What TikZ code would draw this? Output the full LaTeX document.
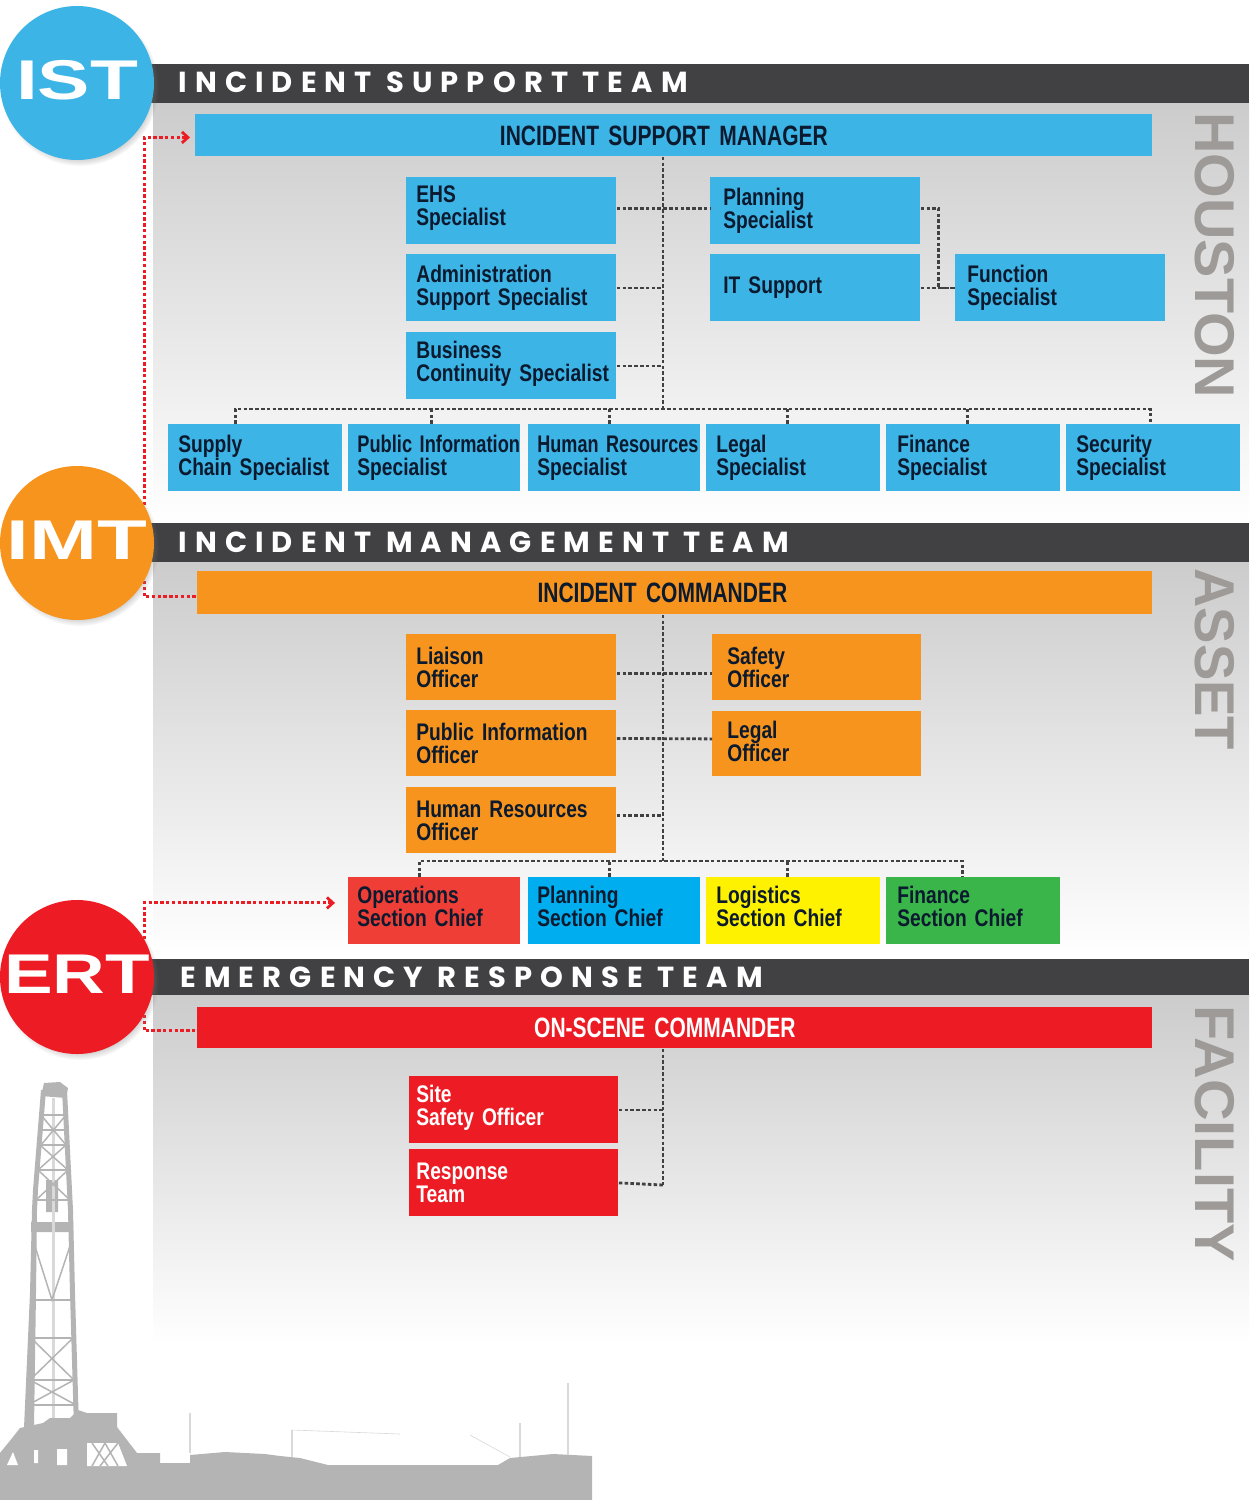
\documentclass[tikz,border=0pt]{standalone}
\usepackage{fontspec}
\usetikzlibrary{shadows,arrows.meta}
\setmainfont{Liberation Sans}
\newfontfamily\boxfont[FakeStretch=.8,WordSpace=.6]{Liberation Sans}
\newfontfamily\titlefont[FakeStretch=.75,WordSpace=.7]{Liberation Sans}
\newfontfamily\headfont[LetterSpace=28]{Poppins}
\newfontfamily\circfont[FakeStretch=1.4]{Liberation Sans}
\newfontfamily\sidefont{Liberation Sans}
\definecolor{cblue}{HTML}{3DB4E6}
\definecolor{corange}{HTML}{F7941E}
\definecolor{cred}{HTML}{ED1C24}
\definecolor{copsred}{HTML}{EF3E36}
\definecolor{cplan}{HTML}{00AEEF}
\definecolor{cyel}{HTML}{FFF200}
\definecolor{cgreen}{HTML}{39B54A}
\definecolor{cbar}{HTML}{414042}
\definecolor{cside}{HTML}{9E9A98}
\definecolor{crig}{HTML}{B5B4B5}
\definecolor{ctxt}{HTML}{0B1A2E}
\tikzset{
 ebox/.style={draw=none,inner sep=0pt,anchor=north west,align=left,font=\boxfont\bfseries\fontsize{12}{11.5}\selectfont},
 title/.style={draw=none,inner sep=0pt,anchor=north west,align=center,font=\titlefont\bfseries\fontsize{14}{14}\selectfont},
 badge/.style={circle,minimum size=77pt,inner sep=0pt,text=white,text depth=3pt,font=\circfont\bfseries\fontsize{28}{28}\selectfont,
   circular drop shadow={shadow xshift=1.2pt,shadow yshift=-1.8pt,shadow scale=1.03,opacity=.55}},
 head/.style={anchor=west,inner sep=0pt,text=white,font=\headfont\bfseries\fontsize{14.5}{15}\selectfont},
 side/.style={rotate=-90,anchor=west,inner sep=0pt,text=cside,font=\sidefont\bfseries\fontsize{28}{28}\selectfont},
 conn/.style={draw=cbar,line width=1.4pt,dash pattern=on 1.8pt off 1.1pt},
 redconn/.style={draw=cred,line width=1.5pt,dash pattern=on 1.7pt off 1.2pt},
 redarrow/.style={redconn,-{Straight Barb[length=3pt,width=5.5pt,line width=1.4pt]}},
 rigl/.style={draw=crig,line width=.75pt},
 riglight/.style={draw=crig!50,line width=.7pt},
 upt/.style={text depth=16.5pt},
}
\newcommand\bx[9]{\node[ebox,fill=#6,text=#8,minimum width={(#4-#2)*0.5pt},minimum height={(#5-#3)*0.5pt},text width={(#4-#2-2*#7)*0.5pt}] (#1) at (#2,#3) {#9};}
\begin{document}
\begin{tikzpicture}[x=0.5pt,y=-0.5pt]
\useasboundingbox (0,0) rectangle (1249,1500);
\fill[white] (0,0) rectangle (1249,1500);
% backgrounds
\shade[top color=black!20,bottom color=white] (153,103) rectangle (1249,523);
\shade[top color=black!20,bottom color=white] (153,562) rectangle (1249,958);
\shade[top color=black!20,bottom color=white] (153,995) rectangle (1249,1345);
% rig: tower
\fill[crig] (24,1428)--(30,1293)--(32,1210)--(33,1190)--(41,1090)--(46,1090)--(38,1190)--(37,1210)--(36,1293)--(34,1428)--cycle;
\fill[crig] (79,1428)--(75,1293)--(73,1210)--(72,1190)--(67,1090)--(62,1090)--(67,1190)--(68,1210)--(70,1293)--(74,1428)--cycle;
\fill[crig] (41,1096)--(44,1083)--(60,1082)--(68,1088)--(66,1098)--cycle;
\fill[crig] (31,1222) rectangle (73,1232) (46,1180) rectangle (58,1212);
\draw[riglight,line width=1.5pt] (53,1098)--(53,1420);
\draw[rigl] (41,1115)--(66,1115) (41,1130)--(66,1130) (40,1145)--(66,1145) (38,1170)--(68,1170) (36,1200)--(70,1200) (31,1300)--(73,1300) (30,1338)--(74,1338) (28,1380)--(76,1380) (27,1405)--(78,1405);
\draw[rigl] (41,1115)--(66,1145) (66,1115)--(41,1145) (40,1145)--(68,1170) (66,1145)--(38,1170) (38,1170)--(70,1200) (68,1170)--(36,1200) (33,1240)--(52,1300)--(72,1240) (31,1338)--(74,1380) (73,1338)--(30,1380) (30,1380)--(76,1405) (74,1380)--(28,1405);
% rig: ground and deck
\fill[crig] (0,1500)--(0,1453)--(13,1437)--(20,1428)--(43,1423)--(50,1418)--(70,1418)--(78,1410)--(87,1413)--(117,1413)--(117,1427)--(137,1453)--(160,1453)--(160,1463)--(190,1463)--(190,1455)--(225,1452)--(265,1454)--(280,1456)--(300,1458)--(328,1465)--(498,1465)--(510,1458)--(553,1454)--(592,1456)--(592,1500)--cycle;
\fill[white] (7,1465)--(13,1452)--(18,1465)--cycle (57,1449) rectangle (67,1465) (34,1450) rectangle (38,1463) (87,1443)--(118,1443)--(127,1466)--(87,1466)--cycle;
\draw[rigl] (92,1466)--(105,1443) (100,1466)--(118,1443) (108,1466)--(92,1443) (118,1466)--(105,1443);
\draw[riglight] (190,1413)--(190,1453) (292,1430)--(292,1457) (520,1423)--(520,1457) (568,1383)--(568,1455);
\draw[riglight,line width=.3pt] (292,1430)--(400,1434) (470,1435)--(510,1457);
% header bars
\fill[cbar] (150,64) rectangle (1249,103);
\fill[cbar] (150,523) rectangle (1249,562);
\fill[cbar] (150,959) rectangle (1249,995);
\node[head] (h1) at (178,82) {INCIDENT SUPPORT TEAM};
\node[head] (h2) at (178,542) {INCIDENT MANAGEMENT TEAM};
\node[head] (h3) at (180,977) {EMERGENCY RESPONSE TEAM};
\node[side] (s1) at (1215,112) {\scalebox{1.025}[1]{HOUSTON}};
\node[side] (s2) at (1215,568) {\scalebox{.973}[1]{ASSET}};
\node[side] (s3) at (1215,1005) {\scalebox{1.03}[1]{FACILITY}};
% IST boxes
\node[title,fill=cblue,text=ctxt,minimum width=478.5pt,minimum height=21pt,text width=478.5pt] (ism) at (195,114) {\hspace*{-10pt}INCIDENT SUPPORT MANAGER};
\bx{ehs}{406}{177}{616}{244}{cblue,upt}{10}{ctxt}{EHS\\Specialist}
\bx{adm}{406}{254}{616}{321}{cblue}{10}{ctxt}{Administration\\Support Specialist}
\bx{bus}{406}{332}{616}{399}{cblue,upt}{10}{ctxt}{Business\\\mbox{Continuity Specialist}}
\bx{pla}{710}{177}{920}{244}{cblue}{13}{ctxt}{Planning\\Specialist}
\bx{its}{710}{254}{920}{321}{cblue}{13}{ctxt}{IT Support}
\bx{fun}{955}{254}{1165}{321}{cblue}{12}{ctxt}{Function\\Specialist}
\bx{sup}{168}{424}{342}{491}{cblue}{10}{ctxt}{Supply\\Chain Specialist}
\bx{pub}{348}{424}{520}{491}{cblue}{9}{ctxt}{\mbox{\scalebox{.95}[1]{Public Information}}\\Specialist}
\bx{hrs}{528}{424}{700}{491}{cblue}{9}{ctxt}{\mbox{\scalebox{.94}[1]{Human Resources}}\\Specialist}
\bx{leg}{706}{424}{880}{491}{cblue}{10}{ctxt}{Legal\\Specialist}
\bx{fin}{886}{424}{1060}{491}{cblue}{11}{ctxt}{Finance\\Specialist}
\bx{sec}{1066}{424}{1240}{491}{cblue}{10}{ctxt}{Security\\Specialist}
% IMT boxes
\node[title,fill=corange,text=ctxt,minimum width=477.5pt,minimum height=21.5pt,text width=477.5pt] (ic) at (197,571) {\hspace*{-12.5pt}INCIDENT COMMANDER};
\bx{lia}{406}{634}{616}{700}{corange}{10}{ctxt}{Liaison\\Officer}
\bx{pio}{406}{710}{616}{776}{corange}{10}{ctxt}{Public Information\\Officer}
\bx{hro}{406}{787}{616}{853}{corange}{10}{ctxt}{Human Resources\\Officer}
\bx{saf}{712}{634}{921}{700}{corange}{15}{ctxt}{Safety\\Officer}
\bx{lgo}{712}{711}{921}{776}{corange,text depth=14.5pt}{15}{ctxt}{Legal\\Officer}
\bx{ops}{348}{877}{520}{944}{copsred,upt}{9}{ctxt}{Operations\\Section Chief}
\bx{psc}{528}{877}{700}{944}{cplan,upt}{9}{ctxt}{Planning\\Section Chief}
\bx{log}{706}{877}{880}{944}{cyel,upt}{10}{ctxt}{Logistics\\Section Chief}
\bx{fsc}{886}{877}{1060}{944}{cgreen,upt}{11}{ctxt}{Finance\\Section Chief}
% ERT boxes
\node[title,fill=cred,text=white,minimum width=477.5pt,minimum height=20.5pt,text width=477.5pt] (osc) at (197,1007) {\hspace*{-10pt}ON-SCENE COMMANDER};
\bx{sit}{409}{1076}{618}{1143}{cred,upt}{7}{white}{Site\\Safety Officer}
\bx{res}{409}{1149}{618}{1216}{cred}{7}{white}{Response\\Team}
% junctions
\coordinate (t1) at (663,409);
\coordinate (t2) at (663,861);
\coordinate (t3) at (663,1185);
% IST connectors
\draw[conn] (ism.south -| t1) -- (t1);
\draw[conn] ([yshift=1.25pt]ehs.east) -- ([yshift=1.25pt]pla.west);
\draw[conn] (adm.east) -- (adm.east -| t1);
\draw[conn] (bus.east) -- (bus.east -| t1);
\draw[conn] ([yshift=1.25pt]pla.east) -- ++(18,0) |- (fun.west);
\draw[conn] (its.east) -- (fun.west);
\draw[conn] ([xshift=-10pt]sup.north) |- (t1) -| ([xshift=-1.5pt]sec.north);
\draw[conn] ([xshift=-1.5pt]pub.north) -- ++(0,-15);
\draw[conn] ([xshift=-2.5pt]hrs.north) -- ++(0,-15);
\draw[conn] ([xshift=-3pt]leg.north) -- ++(0,-15);
\draw[conn] ([xshift=-3pt]fin.north) -- ++(0,-15);
% IMT connectors
\draw[conn] (ic.south -| t2) -- (t2);
\draw[conn] ([yshift=-3pt]lia.east) -- ([yshift=-3pt]saf.west);
\draw[conn] ([yshift=2.5pt]pio.east) -- ([yshift=2.5pt]lgo.west);
\draw[conn] ([yshift=2.5pt]hro.east) -- ([yshift=2.5pt]hro.east -| t2);
\draw[conn] ([xshift=-7.5pt]ops.north) |- (t2) -| ([xshift=-5.5pt]fsc.north);
\draw[conn] ([xshift=-2.5pt]psc.north) -- ++(0,-16);
\draw[conn] ([xshift=-3pt]log.north) -- ++(0,-16);
% ERT connectors
\draw[conn] (osc.south -| t3) -- (t3);
\draw[conn] (sit.east) -- (sit.east -| t3);
\draw[conn] (res.east) -- (t3);
% red links (behind badges)
\coordinate (imtr1) at (144,505);
\coordinate (imtr2) at (144,581);
\coordinate (ertr1) at (144,939);
\coordinate (ertr2) at (144,1015);
\draw[redarrow,shorten >=2.5pt] (imtr1) |- ([yshift=-1pt]ism.west);
\draw[redconn] (imtr2) |- ([yshift=-1.75pt]ic.west);
\draw[redarrow,shorten >=6.5pt] (ertr1) |- ([yshift=4pt]ops.west);
\draw[redconn] (ertr2) |- ([yshift=-1.5pt]osc.west);
% badges
\node[badge,fill=cblue] (ist) at (77,83) {\makebox[0pt]{IST}};
\node[badge,fill=corange] (imt) at (77,543) {\makebox[0pt]{\scalebox{1.04}[1]{IMT}}};
\node[badge,fill=cred] (ert) at (77,977) {\makebox[0pt]{\scalebox{.93}[1]{ERT}}};
\end{tikzpicture}
\end{document}
